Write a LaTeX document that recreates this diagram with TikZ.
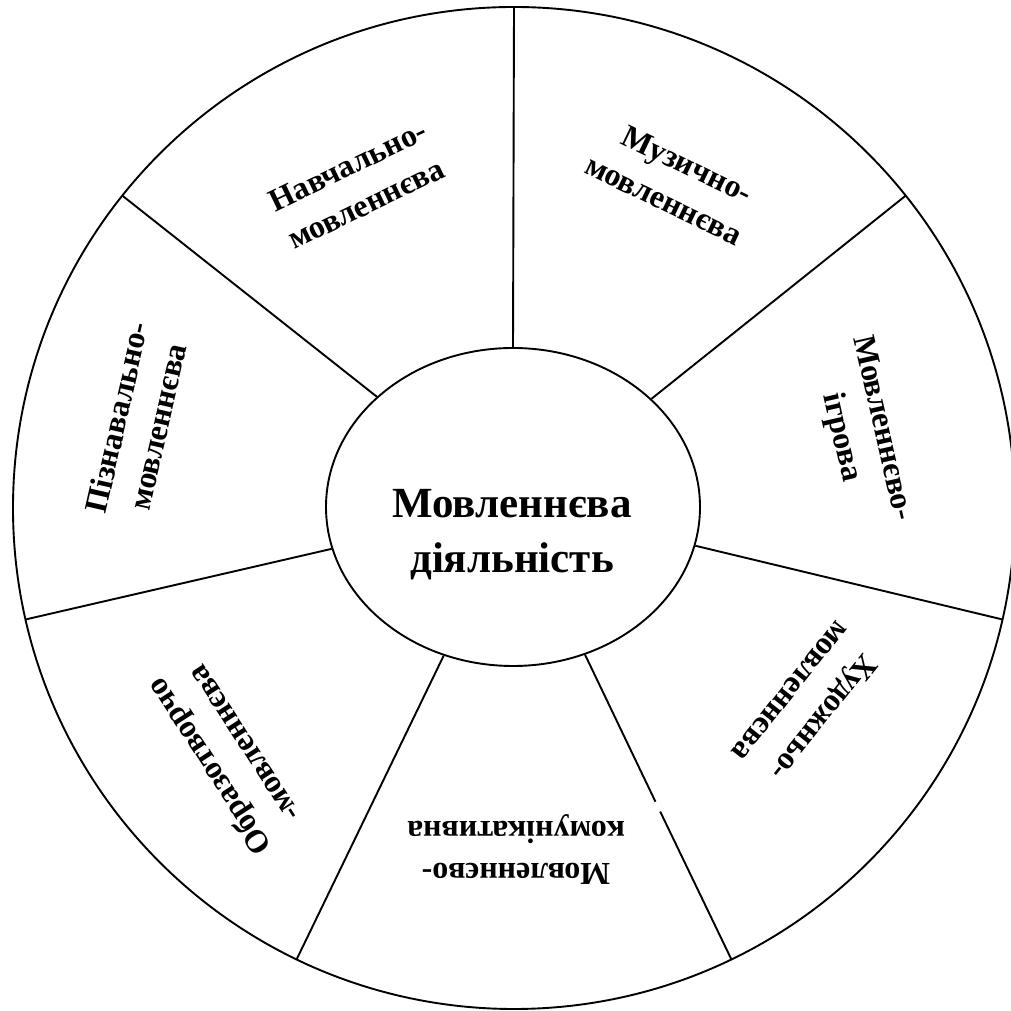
\documentclass[tikz,border=0pt]{standalone}
\usepackage{fontspec}
\setmainfont{Liberation Serif}
\usetikzlibrary{shapes.geometric,calc}
\begin{document}
\begin{tikzpicture}[x=1pt,y=1pt,line width=1.9pt,
  seclabel/.style={font=\fontsize{32}{42}\selectfont\bfseries,align=center,inner sep=0pt},
  hublabel/.style={font=\fontsize{43}{55}\selectfont\bfseries,align=center,inner sep=0pt},
  hub/.style={draw,ellipse,minimum width=374pt,minimum height=318pt,inner sep=0pt}]
\useasboundingbox (0,0) rectangle (1011,1011);
\coordinate (O) at (514,503);
\draw (O) circle (501pt);
\node[hub] (inner) at (513,504) {};
\node[hublabel] (title) at (512,476) {Мовленнєва\\діяльність};
% spokes
\foreach \a/\n in {90/s1,38.571/s2,-12.857/s3,-115.714/s5,-167.143/s6,141.429/s7}{
  \coordinate (\n) at ($(O)+(\a:501)$);
  \draw (inner.\a) -- (\n);
}
\coordinate (s4) at ($(O)+(-64.286:501)$);
\coordinate (g4a) at ($(O)+(-64.286:326)$);
\coordinate (g4b) at ($(O)+(-64.286:337)$);
\draw (inner.-64.286) -- (g4a);
\draw (g4b) -- (s4);
% sector labels
\node[seclabel,rotate=25.7] (l1) at (357,826) {Навчально-\\мовленнєва};
\node[seclabel,rotate=-25.7] (l2) at (673,830) {\hspace*{12pt}Музично-\\мовленнєва};
\node[seclabel,rotate=-77.14] (l3) at (861,578) {Мовленнєво-\\ігрова};
\node[seclabel,rotate=-128.57] (l4) at (808,306) {Художньо-\\мовленнєва};
\node[seclabel,rotate=180] (l5) at (516,161) {Мовленнєво-\\комунікативна};
\node[seclabel,rotate=123] (l6) at (225,255) {Образотворчо\\-мовленнєва};
\node[seclabel,rotate=77.14] (l7) at (137,589) {Пізнавально-\\мовленнєва};
\end{tikzpicture}
\end{document}
